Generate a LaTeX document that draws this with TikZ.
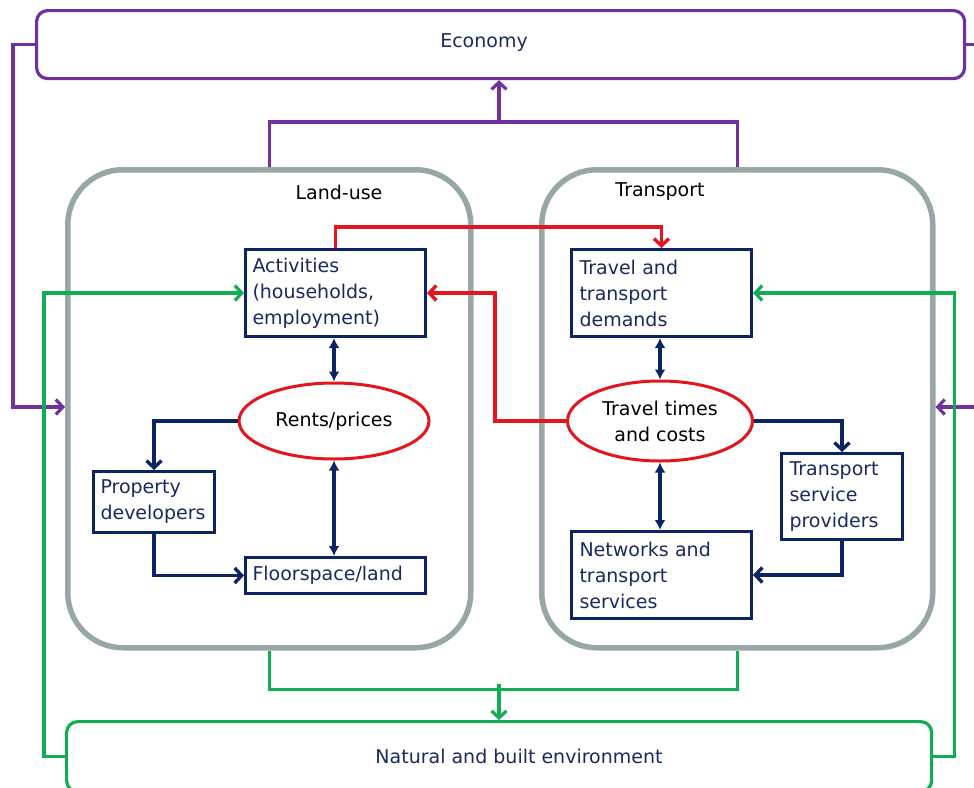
\documentclass[tikz,border=0pt]{standalone}
\usepackage{fontspec}
\setmainfont{DejaVu Sans}
\usetikzlibrary{arrows.meta,shapes.geometric}
\definecolor{purp}{HTML}{7030A0}
\definecolor{grn}{HTML}{12AD52}
\definecolor{redc}{HTML}{E3161E}
\definecolor{navy}{HTML}{0C2463}
\definecolor{txt}{HTML}{1A2A5E}
\definecolor{greyc}{HTML}{97A7A8}
\tikzset{
  chev/.tip={Straight Barb[length=7pt,width=15pt]},
  dbl/.tip={Latex[length=10pt,width=11pt]},
  lbl/.style={font=\fontsize{19}{26}\selectfont},
  box/.style={draw=navy, line width=3pt, fill=white, text=txt, align=left,
    anchor=north west, inner sep=0pt, lbl},
  oval/.style={ellipse, draw=redc, line width=3pt, fill=white, text=black,
    align=center, inner sep=0pt, lbl},
  region/.style={draw=greyc, line width=5.5pt, rounded corners=55pt,
    anchor=north west, inner sep=0pt},
  outer/.style={line width=3.2pt, rounded corners=11pt, anchor=north west,
    inner sep=0pt, text=txt, lbl},
  pline/.style={draw=purp, line width=3.2pt},
  gline/.style={draw=grn, line width=3.2pt},
  rline/.style={draw=redc, line width=3.4pt},
  nline/.style={draw=navy, line width=3.4pt},
}
\begin{document}
\begin{tikzpicture}[x=1pt,y=-1pt]
\useasboundingbox (0,0) rectangle (974,787);
\path[clip] (0,0) rectangle (974,787);

% outer context boxes
\node[outer, draw=purp, minimum width=928, minimum height=68] (econ) at (35,9) {};
\node[text=txt, lbl] (econt) at (484,43) {Economy};
\node[outer, draw=grn, minimum width=865, minimum height=70] (env) at (65,720) {};
\node[text=txt, lbl] (envt) at (519,756) {Natural and built environment};

% the two subsystems
\node[region, minimum width=403, minimum height=478] (lu) at (65,167) {};
\node[region, minimum width=391, minimum height=478] (tr) at (539,167) {};
\node[lbl, text=black] (lut) at (339,192) {Land-use};
\node[lbl, text=black] (trt) at (660,192) {Transport};

% land-use elements
\node[box, minimum width=180, minimum height=87, text width=180] (act) at (244,248)
  {\hspace*{7pt}Activities\\\hspace*{7pt}(households,\\\hspace*{7pt}employment)};
\node[oval, minimum width=190, minimum height=76] (rp) at (334,421) {Rents/prices};
\node[box, minimum width=121, minimum height=61, text width=121] (pd) at (92,470)
  {\hspace*{7pt}Property\\\hspace*{7pt}developers};
\node[box, minimum width=180, minimum height=36, text width=180] (fl) at (244,556)
  {\hspace*{7pt}Floorspace/land};

% transport elements
\node[box, minimum width=180, minimum height=87, text width=180] (trd) at (570,248)
  {\hspace*{8pt}Travel and\\\hspace*{8pt}transport\\\hspace*{8pt}demands};
\node[oval, minimum width=185, minimum height=80] (tt) at (660,421) {Travel times\\and costs};
\node[box, minimum width=121, minimum height=86, text width=121] (tsp) at (780,452)
  {\hspace*{8pt}Transport\\\hspace*{8pt}service\\\hspace*{8pt}providers};
\node[box, minimum width=180, minimum height=87, text width=180] (net) at (570,530)
  {\hspace*{8pt}Networks and\\\hspace*{8pt}transport\\\hspace*{8pt}services};

% junction points
\coordinate (pj) at (499,122);
\coordinate (gj) at (499,684);

% economy links
\draw[pline] (lu.north) -- ++(0,-45) -| (tr.north);
\draw[pline, -chev] (pj) -- (econ.south -| pj);
\draw[pline, -chev] (econ.west) -- ++(-22,0) |- (lu.west |- 0,407);
\draw[pline, -chev] (econ.east) -- ++(20,0) |- (tr.east |- 0,407);

% environment links
\draw[gline] (lu.south) -- ++(0,39) -| (tr.south);
\draw[gline, -chev] (gj) -- (env.north -| gj);
\draw[gline, -chev] (env.west) -- ++(-21,0) |- (act.west);
\draw[gline, -chev] (env.east) -- ++(21,0) |- (trd.east);

% interaction between subsystems
\draw[rline, -chev] (act.north) -- ++(0,-21) -| (trd.north);
\draw[rline, -chev] (tt.west) -- ++(-71,0) |- (act.east);

% land-use internal links
\draw[nline, dbl-dbl] (rp.north |- act.south) -- (rp.north);
\draw[nline, -chev] (rp.west) -| (pd.north);
\draw[nline, dbl-dbl] (rp.south) -- (rp.south |- fl.north);
\draw[nline, -chev] (pd.south) |- (fl.west);

% transport internal links
\draw[nline, dbl-dbl] (tt.north |- trd.south) -- (tt.north);
\draw[nline, -chev] (tt.east) -| (tsp.north);
\draw[nline, dbl-dbl] (tt.south) -- (tt.south |- net.north);
\draw[nline, -chev] (tsp.south) |- (net.east);
\end{tikzpicture}
\end{document}
